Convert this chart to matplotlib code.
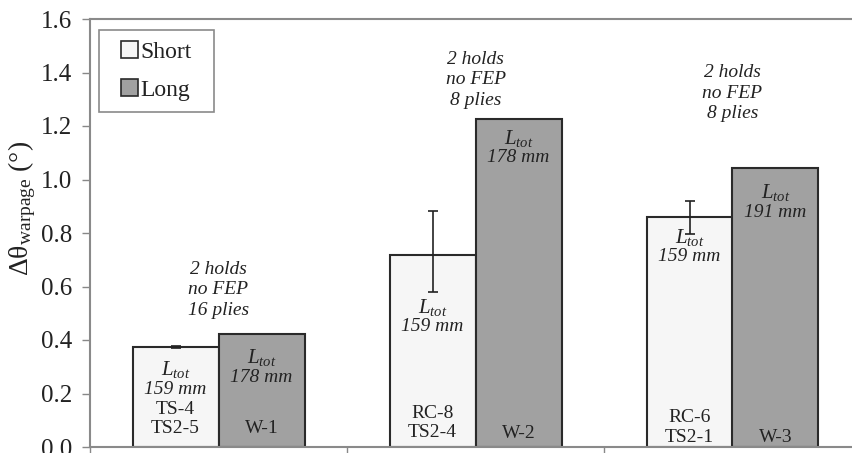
import matplotlib
matplotlib.use("Agg")
import matplotlib.pyplot as plt
from matplotlib.patches import Patch, Rectangle
import numpy as np

plt.rcParams["font.family"] = ["Liberation Serif", "DejaVu Serif"]
plt.rcParams["mathtext.fontset"] = "custom"
plt.rcParams["mathtext.rm"] = "Liberation Serif"
plt.rcParams["mathtext.it"] = "Liberation Serif:italic"

# ---- data ----
groups = ["2 holds\nno FEP\n16 plies", "2 holds\nno FEP\n8 plies", "2 holds\nno FEP\n8 plies"]
short_vals = [0.375, 0.716, 0.858]
long_vals = [0.422, 1.226, 1.043]
short_err_low = [0.004, 0.135, 0.06]
short_err_high = [0.004, 0.165, 0.06]
short_len = ["159 mm", "159 mm", "159 mm"]
long_len = ["178 mm", "178 mm", "191 mm"]
short_ids = ["TS-4\nTS2-5", "RC-8\nTS2-4", "RC-6\nTS2-1"]
long_ids = ["W-1", "W-2", "W-3"]
yticks = [0.0, 0.2, 0.4, 0.6, 0.8, 1.0, 1.2, 1.4, 1.6]

# ---- layout (text heights in data units) ----
short_ltot_y = [0.288, 0.523, 0.785]
long_ltot_y = [0.333, 1.155, 0.950]
id_y = [0.068, 0.052, 0.037]
group_label_y = [0.587, 1.372, 1.323]

W, H = 852, 453
fig = plt.figure(figsize=(W / 100, H / 100), dpi=100)
ax = fig.add_axes([90 / W, 6 / H, 771 / W, 428 / H])

x = np.arange(len(groups))
bw = 86 / 257
edge = "#2a2a2a"
c_short = "#f6f6f6"
c_long = "#a1a1a1"
txt = "#222222"

ax.bar(x - bw / 2, short_vals, bw, color=c_short, edgecolor=edge, linewidth=1.5, zorder=2)
ax.bar(x + bw / 2, long_vals, bw, color=c_long, edgecolor=edge, linewidth=1.5, zorder=2)
ax.errorbar(x - bw / 2, short_vals, yerr=[short_err_low, short_err_high], fmt="none",
            ecolor="#222222", elinewidth=1.2, capsize=3.5, capthick=1.2, zorder=3)

fs = 14
for i in range(len(groups)):
    xs = x[i] - bw / 2
    xl = x[i] + bw / 2
    ax.text(xs, short_ltot_y[i], r"$L_{tot}$", ha="center", va="center", fontsize=15, color=txt)
    ax.text(xs, short_ltot_y[i] - 0.072, short_len[i], ha="center", va="center",
            fontsize=fs, style="italic", color=txt)
    ax.text(xl, long_ltot_y[i], r"$L_{tot}$", ha="center", va="center", fontsize=15, color=txt)
    ax.text(xl, long_ltot_y[i] - 0.072, long_len[i], ha="center", va="center",
            fontsize=fs, style="italic", color=txt)
    ax.text(xs, id_y[i] + 0.037, short_ids[i], ha="center", va="center",
            fontsize=fs, linespacing=1.2, color=txt)
    ax.text(xl, id_y[i], long_ids[i], ha="center", va="center", fontsize=fs, color=txt)
    ax.text(x[i], group_label_y[i], groups[i], ha="center", va="center",
            fontsize=fs, style="italic", linespacing=1.3, color=txt)

ax.set_xlim(-0.5, 2.5)
ax.set_ylim(0, 1.6)
ax.set_yticks(yticks)
ax.set_yticklabels([f"{v:.1f}" for v in yticks], fontsize=18, color=txt)
ax.set_xticks([-0.5, 0.5, 1.5, 2.5])
ax.set_xticklabels([])
ax.tick_params(axis="both", direction="out", length=6, width=1, color="#888888")
ax.tick_params(axis="y", pad=7)

for side in ["left", "bottom", "top", "right"]:
    ax.spines[side].set_color("#8a8a8a")
    ax.spines[side].set_linewidth(1.5)

# y-axis title
fig.text(22 / W, 1 - 208 / H, r"$\mathrm{\Delta\theta_{warpage}}$ (°)", fontsize=20,
         color=txt, rotation=90, ha="center", va="center")

# legend: framed box with the entries centred inside it
box_l, box_r, box_t, box_b = 99, 214, 30, 112
fig.patches.append(Rectangle((box_l / W, 1 - box_b / H), (box_r - box_l) / W,
                             (box_b - box_t) / H, transform=fig.transFigure,
                             facecolor="white", edgecolor="#8a8a8a", linewidth=1.2,
                             zorder=5))
handles = [Patch(facecolor=c_short, edgecolor=edge, linewidth=1.2, label="Short"),
           Patch(facecolor=c_long, edgecolor=edge, linewidth=1.2, label="Long")]
leg = fig.legend(handles=handles, loc="center",
                 bbox_to_anchor=((box_l + box_r) / 2 / W, 1 - (box_t + box_b) / 2 / H),
                 fontsize=17, frameon=False,
                 handlelength=0.72, handleheight=0.72, handletextpad=0.08,
                 labelspacing=0.72, borderpad=0.0, borderaxespad=0)
leg.set_zorder(6)
for t in leg.get_texts():
    t.set_color(txt)

fig.savefig("out.png", dpi=100)
